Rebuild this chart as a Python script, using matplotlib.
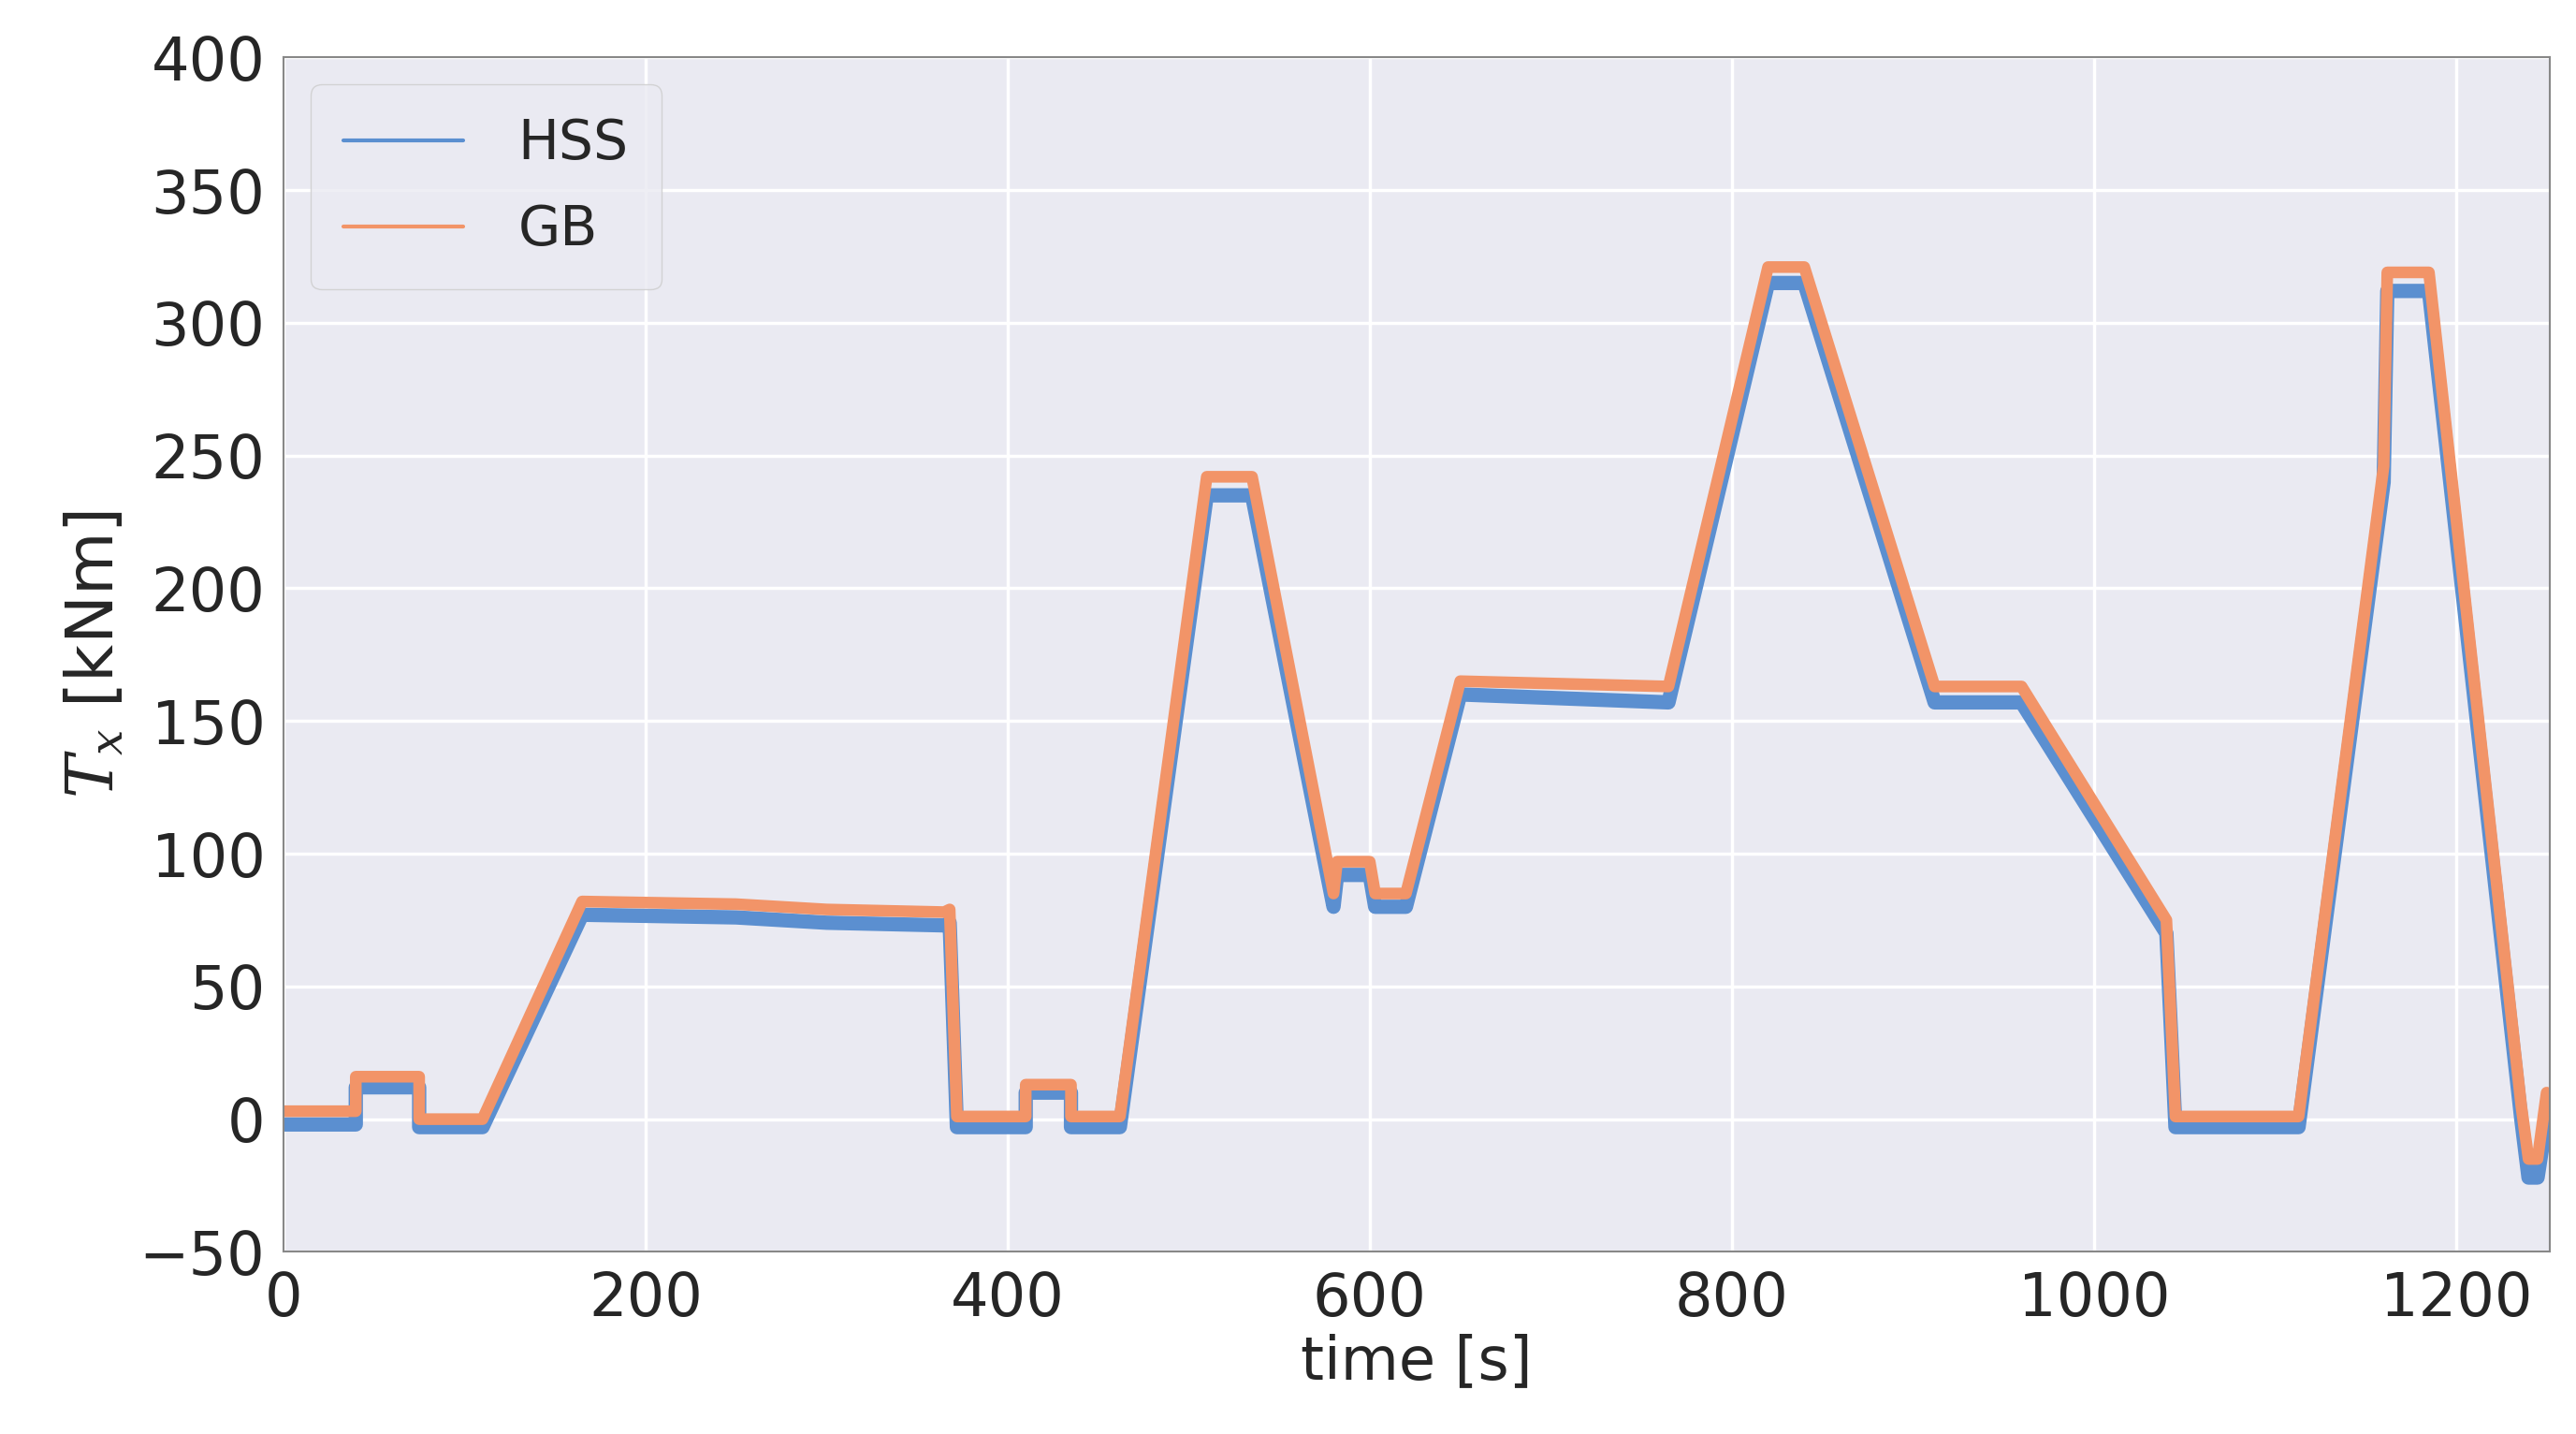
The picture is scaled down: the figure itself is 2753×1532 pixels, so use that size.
import matplotlib
matplotlib.use("Agg")
import matplotlib.pyplot as plt
import seaborn as sns
from matplotlib.lines import Line2D

sns.set_theme(style="darkgrid")
plt.rcParams['font.family'] = ['DejaVu Sans']
plt.rcParams['mathtext.fontset'] = 'dejavuserif'

t_hss = [0, 40, 40, 75, 75, 110, 165, 250, 300, 365, 368, 372, 410, 410, 435, 435, 462,
         510, 535, 580, 582, 600, 603, 620, 650, 765, 820, 840, 912, 960, 1040, 1045,
         1113, 1160, 1162, 1185, 1236, 1240, 1245, 1250]
y_hss = [-2, -2, 12, 12, -3, -3, 77, 76, 74, 73, 74, -3, -3, 10, 10, -3, -3,
         235, 235, 80, 92, 92, 80, 80, 160, 157, 315, 315, 157, 157, 70, -3,
         -3, 240, 312, 312, 0, -22, -22, 0]
y_gb = [3, 3, 16, 16, 0, 0, 82, 81, 79, 78, 79, 1, 1, 13, 13, 1, 1,
        242, 242, 85, 97, 97, 85, 85, 165, 163, 321, 321, 163, 163, 75, 1,
        1, 246, 319, 319, 5, -15, -15, 10]

blue = '#5b8fd0'
orange = '#f29468'
txt = '#262626'

fig = plt.figure(figsize=(27.53, 15.32), dpi=100)
ax = fig.add_axes([0.11, 0.127, 0.88, 0.833])
ax.plot(t_hss, y_hss, color=blue, lw=11, solid_joinstyle='round')
ax.plot(t_hss, y_gb, color=orange, lw=9, solid_joinstyle='round')
ax.set_xlim(0, 1252)
ax.set_ylim(-50, 400)
ax.set_xticks([0, 200, 400, 600, 800, 1000, 1200])
ax.set_yticks(range(-50, 401, 50))
ax.tick_params(labelsize=46, pad=8, labelcolor=txt)
ax.set_xlabel('time [s]', fontsize=46, labelpad=4, color=txt)
ax.set_ylabel(r'$T_x$ [kNm]', fontsize=50, labelpad=10, color=txt)
for s in ax.spines.values():
    s.set_visible(True)
    s.set_color('#888888')
    s.set_linewidth(1.5)
ax.grid(color='white', linewidth=2.5)
handles = [Line2D([], [], color=blue, lw=3), Line2D([], [], color=orange, lw=3)]
leg = ax.legend(handles, ['HSS', 'GB'], loc='upper left', fontsize=42, handlelength=2.2,
                frameon=True, borderpad=0.6, labelspacing=0.6, handletextpad=1.0)
for tx in leg.get_texts():
    tx.set_color(txt)
fig.savefig('out.png', dpi=100)
